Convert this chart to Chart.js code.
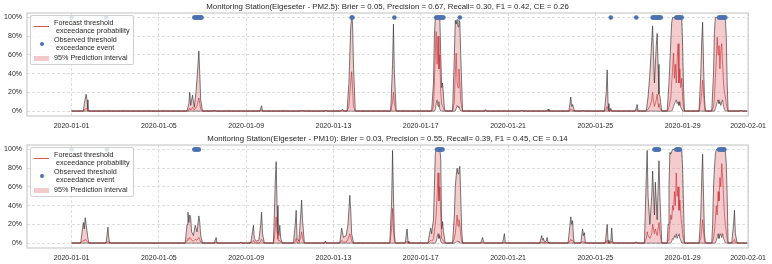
<!DOCTYPE html>
<html>
<head>
<meta charset="utf-8">
<script src="https://cdn.jsdelivr.net/npm/chart.js@4/dist/chart.umd.min.js"></script>
<style>
  html, body { margin:0; padding:0; background:#fff; }
  body { width:772px; height:264px; overflow:hidden; font-family:"Liberation Sans", Arial, sans-serif; }
  .panel { position:relative; width:772px; height:132px; }
  .panel canvas { position:absolute; left:0; top:0; }
  .legend { position:absolute; left:30px; top:15px; width:102px; height:48px; border:1px solid #d0d0d0; border-radius:2px; background:rgba(255,255,255,0.8); color:#262626; font-size:7.2px; line-height:8.2px; }
  .legend .txt { position:absolute; left:23px; white-space:pre; }
  .legend .ln { position:absolute; left:3px; width:15px; height:1px; background:rgba(214,39,40,0.8); top:10px; }
  .legend .dot { position:absolute; left:8.5px; top:25.5px; width:4.6px; height:4.6px; border-radius:50%; background:#4c72b0; }
  .legend .patch { position:absolute; left:3px; top:40px; width:15px; height:5px; background:rgba(225,120,125,0.4); }
</style>
</head>
<body>
<div class="panel" id="p1"><canvas id="c1" width="772" height="132"></canvas>
  <div class="legend"><div class="ln"></div><div class="txt" style="top:2.5px">Forecast threshold
 exceedance probability</div><div class="dot"></div><div class="txt" style="top:20.2px">Observed threshold
 exceedance event</div><div class="patch"></div><div class="txt" style="top:38.2px">95% Prediction interval</div></div>
</div>
<div class="panel" id="p2"><canvas id="c2" width="772" height="132"></canvas>
  <div class="legend"><div class="ln"></div><div class="txt" style="top:2.5px">Forecast threshold
 exceedance probability</div><div class="dot"></div><div class="txt" style="top:20.2px">Observed threshold
 exceedance event</div><div class="patch"></div><div class="txt" style="top:38.2px">95% Prediction interval</div></div>
</div>
<script>
// ---- axis ticks (x in hours since 2020-01-01 00:00) ----
const xTickHours = [0, 96, 192, 288, 384, 480, 576, 672, 744];
const xTickLabels = ['2020-01-01','2020-01-05','2020-01-09','2020-01-13','2020-01-17','2020-01-21','2020-01-25','2020-01-29','2020-02-01'];
const yTickValues = [0, 0.2, 0.4, 0.6, 0.8, 1.0];
const yTickLabels = ['0%','20%','40%','60%','80%','100%'];

const titlePM25 = 'Monitoring Station(Elgeseter - PM2.5): Brier = 0.05, Precision = 0.67, Recall= 0.30, F1 = 0.42, CE = 0.26';
const titlePM10 = 'Monitoring Station(Elgeseter - PM10): Brier = 0.03, Precision = 0.55, Recall= 0.39, F1 = 0.45, CE = 0.14';

// ---- PM2.5 ----
const pm25Hours = [
  0,13,14,16,17,18,19,
  127,129,130,131,133,135,137,138,140,141,142,144,
  156,157,158,207,209,210,253,254,255,279,280,281,296,298,300,
  303,305,307,308,309,310,312,
  351,353,354,355,357,
  396,398,399,400,401,402,403,404,405,406,407,408,410,411,
  419,421,422,423,424,425,426,427,428,430,
  454,455,456,494,495,496,523,524,525,
  547,549,550,551,553,562,563,564,
  586,588,589,590,591,592,593,594,620,622,623,
  632,634,636,638,639,640,641,642,643,644,645,646,647,649,
  655,657,659,660,661,662,663,664,665,666,667,668,669,670,671,672,673,674,
  690,692,693,694,695,696,697,
  704,706,707,708,709,710,711,712,713,714,715,716,717,718,719,720,721,722,
  735,736,737,743
];
const pm25Upper = [
  0,0,0.08,0.18,0.12,0.02,0,
  0,0.08,0.20,0.06,0.17,0.04,0.22,0.35,0.64,0.40,0.12,0,
  0,0.012,0,0,0.056,0,0,0.012,0,0,0.01,0,0,0.02,0,
  0,0.3,0.9,1,0.95,0.5,0,
  0,0.5,0.93,0.4,0,
  0,0.3,0.8,1,1,1,1,1,1,0.6,0.25,0.3,0.03,0,
  0,0.6,0.97,0.93,0.98,0.9,0.97,0.95,0.6,0,
  0,0.015,0,0,0.01,0,0,0.02,0,
  0,0.15,0.05,0.07,0,0,0.01,0,
  0,0.2,0.44,0.08,0,0,0.03,0,0,0.07,0,
  0,0.15,0.4,0.75,0.91,0.6,0.3,0.5,0.7,0.83,0.5,0.18,0.16,0,
  0,0.3,0.75,0.95,1,1,1,1,1,1,1,1,1,1,0.98,0.7,0.25,0,
  0,0.4,0.75,0.95,0.5,0.15,0,
  0,0.4,0.85,1,1,1,1,1,1,1,1,1,1,1,0.97,0.8,0.3,0,
  0,0.01,0,0
];
const pm25Lower = [
  0,0,0,0,0,0,0,
  0,0,0,0,0,0,0,0,0,0,0,0,
  0,0,0,0,0,0,0,0,0,0,0,0,0,0,0,
  0,0,0,0,0,0,0,
  0,0,0,0,0,
  0,0,0,0.02,0.08,0.12,0.05,0.1,0.02,0,0,0,0,0,
  0,0,0,0.03,0.06,0.04,0.05,0.02,0,0,
  0,0,0,0,0,0,0,0,0,
  0,0,0,0,0,0,0,0,
  0,0,0,0,0,0,0,0,0,0,0,
  0,0,0,0,0,0,0,0,0,0,0,0,0,0,
  0,0,0,0,0.02,0.05,0.08,0.1,0.12,0.08,0.1,0.06,0.1,0.04,0.02,0,0,0,
  0,0,0,0,0,0,0,
  0,0,0,0.03,0.06,0.1,0.12,0.08,0.1,0.06,0.1,0.12,0.05,0.02,0,0,0,0,
  0,0,0,0
];
const pm25Forecast = [
  0,0,0.01,0.03,0.02,0,0,
  0,0.01,0.03,0.01,0.04,0.01,0.04,0.06,0.14,0.08,0.02,0,
  0,0.005,0,0,0.01,0,0,0.005,0,0,0.004,0,0,0.005,0,
  0,0.05,0.3,0.42,0.25,0.05,0,
  0,0.1,0.2,0.08,0,
  0,0.05,0.3,0.6,0.85,0.5,0.8,0.45,0.6,0.2,0.08,0.05,0.01,0,
  0,0.1,0.4,0.62,0.3,0.25,0.45,0.3,0.1,0,
  0,0.004,0,0,0.003,0,0,0.005,0,
  0,0.02,0.01,0.01,0,0,0.003,0,
  0,0.02,0.05,0.01,0,0,0.005,0,0,0.02,0,
  0,0.02,0.05,0.12,0.2,0.1,0.05,0.08,0.12,0.18,0.08,0.04,0.03,0,
  0,0.04,0.15,0.3,0.45,0.62,0.35,0.5,0.3,0.55,0.72,0.3,0.45,0.25,0.35,0.15,0.04,0,
  0,0.1,0.2,0.33,0.2,0.05,0,
  0,0.05,0.15,0.35,0.55,0.79,0.6,0.7,0.45,0.65,0.72,0.5,0.3,0.2,0.15,0.08,0.03,0,
  0,0.003,0,0
];
const pm25Events = [0,38,135,136,137,138,139,140,141,142,143,308,309,355,401,402,403,404,405,406,407,408,409,427,593,621,
  639,640,641,642,643,644,645,646,647,648,665,666,667,668,669,670,671,712,713,714,715,716,717,718,719];

// ---- PM10 ----
const pm10Hours = [
  0,10,13,14,15,16,18,19,
  38,40,41,42,
  125,127,128,129,130,131,132,134,136,138,140,141,142,144,
  157,159,160,185,186,187,
  197,199,200,201,203,206,208,209,210,212,
  222,223,224,225,226,227,228,229,230,232,
  244,246,247,248,250,252,253,254,256,
  278,279,280,
  295,297,299,302,304,306,307,308,310,
  350,352,353,354,355,356,
  367,368,369,370,371,
  392,394,395,396,397,398,399,400,401,402,403,404,405,406,407,408,409,411,
  419,421,422,423,424,425,426,427,428,429,430,
  450,452,453,454,474,476,477,
  515,517,518,519,520,522,523,524,525,
  546,548,549,550,551,552,553,
  560,562,563,564,565,
  587,589,590,591,593,594,595,596,620,621,622,
  630,632,633,634,636,638,639,641,642,644,646,647,649,
  655,656,657,658,659,660,661,662,663,664,665,666,667,668,669,670,671,672,673,674,
  690,692,693,694,695,696,697,
  704,705,706,707,708,709,710,711,712,713,714,715,716,717,718,719,720,721,722,
  726,728,729,730,731,732,743
];
const pm10Upper = [
  0,0,0.22,0.15,0.27,0.2,0.05,0,
  0,0.17,0.05,0,
  0,0.2,0.33,0.22,0.3,0.27,0.12,0.08,0.19,0.12,0.29,0.22,0.08,0,
  0,0.06,0,0,0.012,0,
  0,0.12,0.19,0.05,0.02,0.03,0.2,0.33,0.1,0,
  0,0.3,0.65,0.87,0.4,0.1,0.08,0.19,0.05,0,
  0,0.2,0.35,0.05,0.02,0.3,0.46,0.25,0,
  0,0.02,0,
  0,0.16,0.06,0.08,0.2,0.51,0.35,0.1,0,
  0,0.45,0.99,0.5,0.1,0,
  0,0.08,0.15,0.02,0,
  0,0.12,0.16,0.1,0.18,0.25,0.6,0.95,1,1,1,1,1,0.9,0.15,0.23,0.12,0,
  0,0.3,0.6,0.72,0.8,0.74,0.78,0.82,0.5,0.15,0,
  0,0.06,0.02,0,0,0.1,0,
  0,0.08,0.03,0.05,0.01,0.02,0.06,0.01,0,
  0,0.18,0.28,0.2,0.24,0.05,0,
  0,0.15,0.08,0.11,0,
  0,0.2,0.03,0,0.02,0.16,0.02,0,0,0.015,0,
  0,0.7,0.99,0.5,0.2,0.5,0.77,0.3,0.65,0.25,0.88,0.5,0,
  0,0.2,0.6,0.97,0.95,0.98,1,1,1,1,1,1,1,1,1,1,0.98,0.8,0.4,0,
  0,0.3,0.7,0.95,0.5,0.1,0,
  0,0.2,0.6,0.8,0.95,1,1,1,1,1,1,1,1,1,1,0.98,0.85,0.5,0,
  0,0.2,0.35,0.1,0.05,0,0
];
const pm10Lower = [
  0,0,0,0,0,0,0,0,
  0,0,0,0,
  0,0,0,0,0,0,0,0,0,0,0,0,0,0,
  0,0,0,0,0,0,
  0,0,0,0,0,0,0,0,0,0,
  0,0,0,0,0,0,0,0,0,0,
  0,0,0,0,0,0,0,0,0,
  0,0,0,
  0,0,0,0,0,0,0,0,0,
  0,0,0,0,0,0,
  0,0,0,0,0,
  0,0,0,0,0,0,0,0,0.02,0.06,0.1,0.05,0.08,0.02,0,0,0,0,
  0,0,0,0.01,0.02,0.02,0.01,0,0,0,0,
  0,0,0,0,0,0,0,
  0,0,0,0,0,0,0,0,0,
  0,0,0,0,0,0,0,
  0,0,0,0,0,
  0,0,0,0,0,0,0,0,0,0,0,
  0,0,0,0,0,0,0,0,0,0,0,0,0,
  0,0,0,0,0,0.02,0.05,0.04,0.08,0.06,0.1,0.05,0.08,0.1,0.05,0.03,0,0,0,0,
  0,0,0,0,0,0,0,
  0,0,0,0,0,0.03,0.06,0.1,0.05,0.08,0.1,0.06,0.1,0.05,0.03,0,0,0,0,
  0,0,0,0,0,0,0
];
const pm10Forecast = [
  0,0,0.03,0.02,0.04,0.03,0.01,0,
  0,0.02,0.01,0,
  0,0.03,0.05,0.04,0.06,0.05,0.03,0.02,0.04,0.03,0.06,0.04,0.01,0,
  0,0.01,0,0,0.003,0,
  0,0.02,0.03,0.01,0,0,0.02,0.04,0.02,0,
  0,0.05,0.15,0.28,0.12,0.04,0.02,0.03,0.01,0,
  0,0.02,0.05,0.01,0,0.06,0.12,0.05,0,
  0,0.005,0,
  0,0.03,0.01,0.01,0.04,0.1,0.06,0.02,0,
  0,0.15,0.37,0.15,0.03,0,
  0,0.01,0.02,0,0,
  0,0.02,0.03,0.02,0.03,0.05,0.12,0.2,0.3,0.5,0.75,0.45,0.6,0.3,0.05,0.04,0.02,0,
  0,0.05,0.1,0.2,0.3,0.18,0.25,0.2,0.08,0.02,0,
  0,0.01,0,0,0,0.01,0,
  0,0.01,0,0.01,0,0,0.01,0,0,
  0,0.02,0.04,0.02,0.03,0.01,0,
  0,0.02,0.01,0.01,0,
  0,0.03,0,0,0,0.02,0,0,0,0.003,0,
  0,0.05,0.12,0.08,0.05,0.1,0.2,0.1,0.15,0.08,0.22,0.1,0,
  0,0.03,0.1,0.2,0.3,0.25,0.4,0.35,0.55,0.4,0.75,0.5,0.6,0.35,0.46,0.3,0.2,0.1,0.05,0,
  0,0.05,0.15,0.25,0.12,0.03,0,
  0,0.02,0.05,0.12,0.25,0.4,0.3,0.55,0.45,0.7,0.6,0.85,0.7,0.5,0.3,0.2,0.12,0.05,0,
  0,0.02,0.04,0.01,0,0,0
];
const pm10Events = [0,39,135,136,137,138,139,140,402,403,404,405,406,407,408,641,642,643,644,645,646,
  665,666,667,668,669,712,713,714,715,716,717,718];

// ---- styles ----
const FONT = '"Liberation Sans", Arial, sans-serif';
const TEXT = '#262626';
const GRID = '#d6d6d6';

const framePlugin = {
  id: 'frame',
  beforeDatasetsDraw(chart) {
    const {ctx, chartArea: {left, top, right, bottom}} = chart;
    ctx.save();
    ctx.strokeStyle = '#cccccc';
    ctx.lineWidth = 1.2;
    ctx.strokeRect(left, top, right - left, bottom - top);
    ctx.restore();
  }
};

function makeChart(id, title, hours, upper, lower, forecast, events) {
  if (hours.length !== upper.length || hours.length !== lower.length || hours.length !== forecast.length) {
    throw new Error('length mismatch ' + id + ' ' + [hours.length, upper.length, lower.length, forecast.length].join(','));
  }
  const pts = arr => hours.map((h, i) => ({x: h, y: arr[i]}));
  new Chart(document.getElementById(id), {
    type: 'line',
    data: {
      datasets: [
        { label: 'upper', data: pts(upper), borderColor: 'rgba(35,35,35,0.8)', borderWidth: 0.75,
          backgroundColor: 'rgba(225,120,125,0.38)', fill: '+1', pointRadius: 0, tension: 0, order: 3 },
        { label: 'lower', data: pts(lower), borderColor: 'rgba(35,35,35,0.8)', borderWidth: 0.75,
          fill: false, pointRadius: 0, tension: 0, order: 4 },
        { label: 'forecast', data: pts(forecast), borderColor: 'rgba(200,40,45,0.75)', borderWidth: 0.8,
          fill: false, pointRadius: 0, tension: 0, order: 2 },
        { label: 'events', data: events.map(h => ({x: h, y: 1})), showLine: false,
          pointRadius: 2.3, pointBackgroundColor: '#4c72b0', pointBorderWidth: 0, order: 1 }
      ]
    },
    options: {
      responsive: false, animation: false, devicePixelRatio: 1,
      layout: { padding: { left: 0, right: 22, top: 0, bottom: 0 } },
      plugins: {
        legend: { display: false }, tooltip: { enabled: false },
        title: { display: true, text: title, fullSize: false, color: TEXT,
                 font: { family: FONT, size: 7.85, weight: 'normal', lineHeight: 1.15 }, padding: { top: 2, bottom: 2 } }
      },
      scales: {
        x: {
          type: 'linear', min: -49, max: 744,
          afterBuildTicks: s => { s.ticks = xTickHours.map(v => ({value: v})); },
          afterFit: s => { s.height = 16; },
          ticks: { autoSkip: false, maxRotation: 0, padding: 6, color: TEXT,
                   font: { family: FONT, size: 7 }, callback: (v, i) => xTickLabels[i] },
          grid: { color: GRID, lineWidth: 0.8, drawTicks: false },
          border: { display: false, dash: [3, 2] }
        },
        y: {
          min: -0.053, max: 1.048,
          afterBuildTicks: s => { s.ticks = yTickValues.map(v => ({value: v})); },
          afterFit: s => { s.width = 27; },
          ticks: { padding: 5, color: TEXT, font: { family: FONT, size: 7 }, callback: (v, i) => yTickLabels[i] },
          grid: { color: GRID, lineWidth: 0.8, drawTicks: false },
          border: { display: false, dash: [3, 2] }
        }
      }
    },
    plugins: [framePlugin]
  });
}

makeChart('c1', titlePM25, pm25Hours, pm25Upper, pm25Lower, pm25Forecast, pm25Events);
makeChart('c2', titlePM10, pm10Hours, pm10Upper, pm10Lower, pm10Forecast, pm10Events);
</script>
</body>
</html>
